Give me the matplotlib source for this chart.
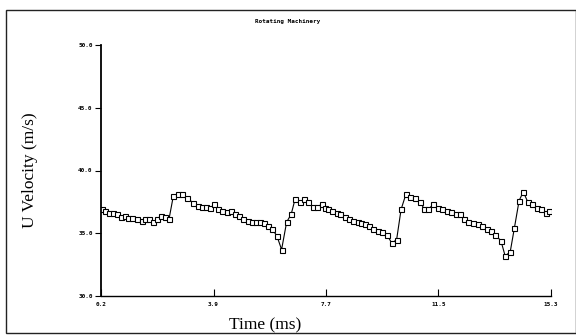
import matplotlib
matplotlib.use("Agg")
import matplotlib.pyplot as plt
from matplotlib.patches import Rectangle

# ─────────────────────────────────────────
#  Data
# ─────────────────────────────────────────

time_ms = [
    0.22, 0.33, 0.47, 0.61, 0.73, 0.87, 1.01, 1.12, 1.25, 1.40,
    1.57, 1.68, 1.81, 1.96, 2.07, 2.21, 2.35, 2.48, 2.63, 2.77,
    2.93, 3.10, 3.30, 3.45, 3.58, 3.71, 3.86, 4.00, 4.14, 4.27,
    4.42, 4.56, 4.70, 4.83, 4.98, 5.12, 5.26, 5.39, 5.54, 5.68,
    5.81, 5.95, 6.10, 6.26, 6.43, 6.58, 6.71, 6.88, 7.02, 7.16,
    7.30, 7.44, 7.61, 7.72, 7.83, 7.94, 8.11, 8.22, 8.39, 8.52,
    8.67, 8.81, 8.94, 9.06, 9.19, 9.34, 9.49, 9.64, 9.79, 9.96,
    10.12, 10.27, 10.43, 10.57, 10.74, 10.91, 11.05, 11.18, 11.35, 11.50,
    11.65, 11.80, 11.95, 12.11, 12.25, 12.39, 12.53, 12.69, 12.84, 12.98,
    13.14, 13.29, 13.42, 13.62, 13.76, 13.93, 14.07, 14.23, 14.37, 14.52,
    14.67, 14.82, 14.97, 15.12, 15.23,
]

u_velocity = [
    36.9, 36.8, 36.6, 36.6, 36.5, 36.3, 36.4, 36.2, 36.2, 36.1,
    36.0, 36.1, 36.1, 35.9, 36.1, 36.4, 36.3, 36.1, 38.0, 38.1,
    38.1, 37.8, 37.4, 37.2, 37.1, 37.1, 37.0, 37.3, 36.9, 36.8,
    36.7, 36.8, 36.5, 36.4, 36.1, 36.0, 35.9, 35.9, 35.9, 35.8,
    35.6, 35.3, 34.8, 33.7, 35.9, 36.5, 37.7, 37.5, 37.7, 37.5,
    37.1, 37.1, 37.3, 37.0, 36.9, 36.8, 36.6, 36.5, 36.3, 36.1,
    36.0, 35.9, 35.8, 35.7, 35.6, 35.3, 35.2, 35.1, 34.9, 34.2,
    34.5, 36.9, 38.1, 37.9, 37.8, 37.5, 36.9, 36.9, 37.3, 37.0,
    36.9, 36.8, 36.7, 36.5, 36.5, 36.1, 35.9, 35.8, 35.7, 35.6,
    35.3, 35.2, 34.9, 34.4, 33.2, 33.5, 35.4, 37.6, 38.3, 37.5,
    37.3, 37.0, 36.9, 36.6, 36.8,
]

x_ticks = [0.2, 3.975, 7.75, 11.525, 15.3]
x_tick_labels = ["0.2", "3.9", "7.7", "11.5", "15.3"]
y_ticks = [30.0, 35.0, 40.0, 45.0, 50.0]
y_tick_labels = ["30.0", "35.0", "40.0", "45.0", "50.0"]


# ─────────────────────────────────────────
#  Figure
# ─────────────────────────────────────────

fig = plt.figure(figsize=(5.76, 3.36), dpi=100)
fig.patch.set_facecolor("white")

# outer frame of the scanned page
fig.patches.append(Rectangle(
    (6 / 576, 1 - 333 / 336), 570 / 576, 323 / 336,
    transform=fig.transFigure, fill=False,
    edgecolor="#222222", linewidth=1.0,
))

ax = fig.add_axes([101 / 576, 1 - 296 / 336, 450 / 576, 251 / 336])

ax.plot(time_ms, u_velocity, "-", color="black", linewidth=0.8,
        marker="s", markersize=3.6, markerfacecolor="white",
        markeredgecolor="black", markeredgewidth=0.8)

ax.set_xlim(0.2, 15.3)
ax.set_ylim(30.0, 50.0)

for side in ("top", "right"):
    ax.spines[side].set_visible(False)
ax.spines["left"].set_linewidth(1.3)
ax.spines["bottom"].set_linewidth(1.0)

tick_font = dict(family="DejaVu Sans Mono", fontsize=4.3, fontweight="bold")

ax.set_xticks(x_ticks)
ax.set_xticklabels(x_tick_labels, **tick_font)
ax.set_yticks(y_ticks)
ax.set_yticklabels(y_tick_labels, **tick_font)

ax.tick_params(axis="x", direction="in", length=5, width=0.8, pad=4)
ax.tick_params(axis="y", direction="out", length=4, width=0.8, pad=2)

fig.text(0.5, 1 - 22 / 336, "Rotating Machinery",
         ha="center", va="center",
         family="DejaVu Sans Mono", fontsize=4.3, fontweight="bold")

fig.text(30 / 576, 1 - 170 / 336, "U Velocity (m/s)",
         ha="center", va="center", rotation=90,
         family="Liberation Serif", fontsize=12.5)
fig.text(265 / 576, 1 - 325 / 336, "Time (ms)",
         ha="center", va="center",
         family="Liberation Serif", fontsize=12.5)

fig.savefig("out.png", dpi=100)
